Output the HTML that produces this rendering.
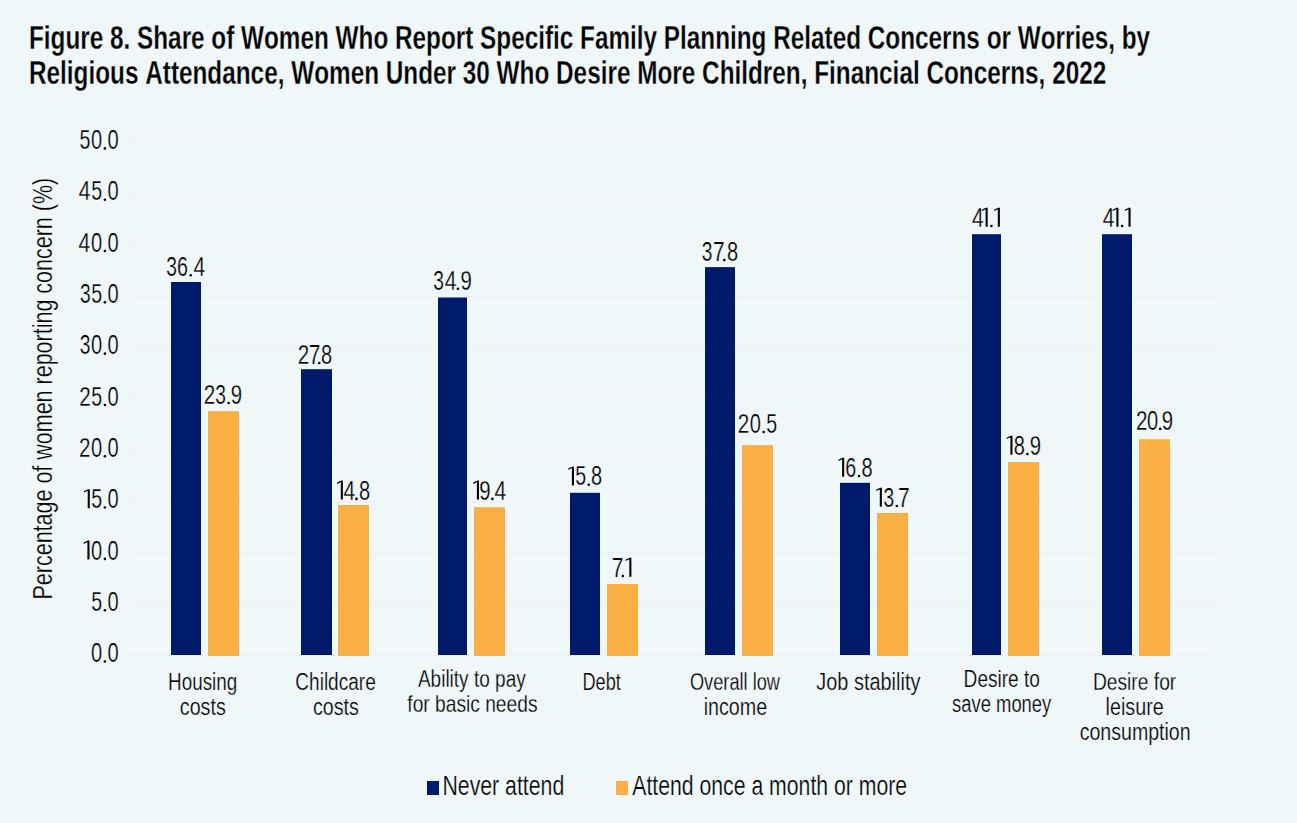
<!DOCTYPE html>
<html><head><meta charset="utf-8"><style>
html,body{margin:0;padding:0;background:#EFF7F9;}
svg{display:block;}
text{font-family:"Liberation Sans",sans-serif;fill:#050505;font-kerning:none;stroke:#EFF7F9;stroke-width:0.25px;}
</style></head><body>
<svg width="1297" height="823" viewBox="0 0 1297 823">
<rect width="1297" height="823" fill="#EFF7F9"/>
<rect x="134" y="142" width="1087" height="1" fill="#F0EFEF"/>
<rect x="134" y="193" width="1087" height="1" fill="#F0EFEF"/>
<rect x="134" y="245" width="1087" height="1" fill="#F0EFEF"/>
<rect x="134" y="296" width="1087" height="1" fill="#F0EFEF"/>
<rect x="134" y="347" width="1087" height="1" fill="#F0EFEF"/>
<rect x="134" y="398" width="1087" height="1" fill="#F0EFEF"/>
<rect x="134" y="449" width="1087" height="1" fill="#F0EFEF"/>
<rect x="134" y="501" width="1087" height="1" fill="#F0EFEF"/>
<rect x="134" y="552" width="1087" height="1" fill="#F0EFEF"/>
<rect x="134" y="603" width="1087" height="1" fill="#F0EFEF"/>
<rect x="124" y="655" width="1087" height="1" fill="#F0EFEF"/>
<rect x="171" y="282.0" width="30" height="373.0" fill="#001A6B"/>
<rect x="208" y="411.1" width="31" height="244.9" fill="#F9AF44"/>
<rect x="301" y="369.2" width="31" height="285.8" fill="#001A6B"/>
<rect x="338" y="505.0" width="31" height="151.0" fill="#F9AF44"/>
<rect x="438" y="297.5" width="29" height="357.5" fill="#001A6B"/>
<rect x="474" y="507.2" width="31" height="148.8" fill="#F9AF44"/>
<rect x="570" y="492.8" width="30" height="162.2" fill="#001A6B"/>
<rect x="607" y="584.0" width="31" height="72.0" fill="#F9AF44"/>
<rect x="705" y="267.1" width="30" height="387.9" fill="#001A6B"/>
<rect x="742" y="445.1" width="31" height="210.9" fill="#F9AF44"/>
<rect x="840" y="482.8" width="30" height="172.2" fill="#001A6B"/>
<rect x="877" y="513.0" width="31" height="143.0" fill="#F9AF44"/>
<rect x="972" y="234.2" width="29" height="420.8" fill="#001A6B"/>
<rect x="1008" y="462.1" width="31" height="193.9" fill="#F9AF44"/>
<rect x="1102" y="234.2" width="30" height="420.8" fill="#001A6B"/>
<rect x="1139" y="439.2" width="31" height="216.8" fill="#F9AF44"/>
<rect x="427" y="781" width="12" height="14" fill="#001A6B"/>
<rect x="616" y="781" width="12" height="14" fill="#F9AF44"/>
<text transform="translate(79.41,149.10) scale(0.7159,1)" font-size="27.4">5</text>
<text transform="translate(90.92,149.10) scale(0.7329,1)" font-size="27.4">0</text>
<circle cx="104.90" cy="148.40" r="1.3" fill="#050505"/>
<text transform="translate(107.52,149.10) scale(0.7329,1)" font-size="27.4">0</text>
<text transform="translate(78.72,200.41) scale(0.7677,1)" font-size="27.4">4</text>
<text transform="translate(91.21,200.41) scale(0.7159,1)" font-size="27.4">5</text>
<circle cx="104.90" cy="199.71" r="1.3" fill="#050505"/>
<text transform="translate(107.52,200.41) scale(0.7329,1)" font-size="27.4">0</text>
<text transform="translate(78.42,251.72) scale(0.7677,1)" font-size="27.4">4</text>
<text transform="translate(90.92,251.72) scale(0.7329,1)" font-size="27.4">0</text>
<circle cx="104.90" cy="251.02" r="1.3" fill="#050505"/>
<text transform="translate(107.52,251.72) scale(0.7329,1)" font-size="27.4">0</text>
<text transform="translate(79.97,303.03) scale(0.7005,1)" font-size="27.4">3</text>
<text transform="translate(91.21,303.03) scale(0.7159,1)" font-size="27.4">5</text>
<circle cx="104.90" cy="302.33" r="1.3" fill="#050505"/>
<text transform="translate(107.52,303.03) scale(0.7329,1)" font-size="27.4">0</text>
<text transform="translate(79.67,354.34) scale(0.7005,1)" font-size="27.4">3</text>
<text transform="translate(90.92,354.34) scale(0.7329,1)" font-size="27.4">0</text>
<circle cx="104.90" cy="353.64" r="1.3" fill="#050505"/>
<text transform="translate(107.52,354.34) scale(0.7329,1)" font-size="27.4">0</text>
<text transform="translate(79.36,405.65) scale(0.7531,1)" font-size="27.4">2</text>
<text transform="translate(91.21,405.65) scale(0.7159,1)" font-size="27.4">5</text>
<circle cx="104.90" cy="404.95" r="1.3" fill="#050505"/>
<text transform="translate(107.52,405.65) scale(0.7329,1)" font-size="27.4">0</text>
<text transform="translate(79.06,456.96) scale(0.7531,1)" font-size="27.4">2</text>
<text transform="translate(90.92,456.96) scale(0.7329,1)" font-size="27.4">0</text>
<circle cx="104.90" cy="456.26" r="1.3" fill="#050505"/>
<text transform="translate(107.52,456.96) scale(0.7329,1)" font-size="27.4">0</text>
<path d="M87.70 489.27h2.1v19.00h-2.1z M87.90 489.27L87.90 490.77L84.00 492.57L84.00 491.27z" fill="#050505"/>
<text transform="translate(91.21,508.27) scale(0.7159,1)" font-size="27.4">5</text>
<circle cx="104.90" cy="507.57" r="1.3" fill="#050505"/>
<text transform="translate(107.52,508.27) scale(0.7329,1)" font-size="27.4">0</text>
<path d="M87.40 540.58h2.1v19.00h-2.1z M87.60 540.58L87.60 542.08L83.70 543.88L83.70 542.58z" fill="#050505"/>
<text transform="translate(90.92,559.58) scale(0.7329,1)" font-size="27.4">0</text>
<circle cx="104.90" cy="558.88" r="1.3" fill="#050505"/>
<text transform="translate(107.52,559.58) scale(0.7329,1)" font-size="27.4">0</text>
<text transform="translate(91.21,610.89) scale(0.7159,1)" font-size="27.4">5</text>
<circle cx="104.90" cy="610.19" r="1.3" fill="#050505"/>
<text transform="translate(107.52,610.89) scale(0.7329,1)" font-size="27.4">0</text>
<text transform="translate(90.92,662.20) scale(0.7329,1)" font-size="27.4">0</text>
<circle cx="104.90" cy="661.50" r="1.3" fill="#050505"/>
<text transform="translate(107.52,662.20) scale(0.7329,1)" font-size="27.4">0</text>
<text transform="translate(166.17,276.00) scale(0.7005,1)" font-size="27.4">3</text>
<text transform="translate(177.10,276.00) scale(0.7198,1)" font-size="27.4">6</text>
<circle cx="190.70" cy="275.30" r="1.3" fill="#050505"/>
<text transform="translate(193.52,276.00) scale(0.7677,1)" font-size="27.4">4</text>
<text transform="translate(203.66,403.70) scale(0.7531,1)" font-size="27.4">2</text>
<text transform="translate(215.37,403.70) scale(0.7005,1)" font-size="27.4">3</text>
<circle cx="228.60" cy="403.00" r="1.3" fill="#050505"/>
<text transform="translate(230.85,403.70) scale(0.7427,1)" font-size="27.4">9</text>
<text transform="translate(297.86,363.70) scale(0.7531,1)" font-size="27.4">2</text>
<text transform="translate(308.73,363.70) scale(0.7627,1)" font-size="27.4">7</text>
<circle cx="319.20" cy="363.00" r="1.3" fill="#050505"/>
<text transform="translate(321.03,363.70) scale(0.7311,1)" font-size="27.4">8</text>
<path d="M340.80 480.60h2.1v19.00h-2.1z M341.00 480.60L341.00 482.10L337.10 483.90L337.10 482.60z" fill="#050505"/>
<text transform="translate(343.52,499.60) scale(0.7677,1)" font-size="27.4">4</text>
<circle cx="356.50" cy="498.90" r="1.3" fill="#050505"/>
<text transform="translate(359.03,499.60) scale(0.7311,1)" font-size="27.4">8</text>
<text transform="translate(433.17,289.50) scale(0.7005,1)" font-size="27.4">3</text>
<text transform="translate(444.85,289.50) scale(0.7677,1)" font-size="27.4">4</text>
<circle cx="457.97" cy="288.80" r="1.3" fill="#050505"/>
<text transform="translate(460.55,289.50) scale(0.7427,1)" font-size="27.4">9</text>
<path d="M476.90 480.60h2.1v19.00h-2.1z M477.10 480.60L477.10 482.10L473.20 483.90L473.20 482.60z" fill="#050505"/>
<text transform="translate(479.35,499.60) scale(0.7427,1)" font-size="27.4">9</text>
<circle cx="492.40" cy="498.90" r="1.3" fill="#050505"/>
<text transform="translate(494.42,499.60) scale(0.7677,1)" font-size="27.4">4</text>
<path d="M571.90 466.40h2.1v19.00h-2.1z M572.10 466.40L572.10 467.90L568.20 469.70L568.20 468.40z" fill="#050505"/>
<text transform="translate(575.21,485.40) scale(0.7159,1)" font-size="27.4">5</text>
<circle cx="588.70" cy="484.70" r="1.3" fill="#050505"/>
<text transform="translate(591.03,485.40) scale(0.7311,1)" font-size="27.4">8</text>
<text transform="translate(611.63,576.70) scale(0.7627,1)" font-size="27.4">7</text>
<circle cx="622.90" cy="576.00" r="1.3" fill="#050505"/>
<path d="M629.30 557.70h2.1v19.00h-2.1z M629.50 557.70L629.50 559.20L625.60 561.00L625.60 559.70z" fill="#050505"/>
<text transform="translate(701.87,260.80) scale(0.7005,1)" font-size="27.4">3</text>
<text transform="translate(713.00,260.80) scale(0.7627,1)" font-size="27.4">7</text>
<circle cx="724.33" cy="260.10" r="1.3" fill="#050505"/>
<text transform="translate(727.03,260.80) scale(0.7311,1)" font-size="27.4">8</text>
<text transform="translate(737.76,432.70) scale(0.7531,1)" font-size="27.4">2</text>
<text transform="translate(749.65,432.70) scale(0.7329,1)" font-size="27.4">0</text>
<circle cx="763.67" cy="432.00" r="1.3" fill="#050505"/>
<text transform="translate(766.31,432.70) scale(0.7159,1)" font-size="27.4">5</text>
<path d="M842.10 457.70h2.1v19.00h-2.1z M842.30 457.70L842.30 459.20L838.40 461.00L838.40 459.70z" fill="#050505"/>
<text transform="translate(845.33,476.70) scale(0.7198,1)" font-size="27.4">6</text>
<circle cx="858.97" cy="476.00" r="1.3" fill="#050505"/>
<text transform="translate(861.43,476.70) scale(0.7311,1)" font-size="27.4">8</text>
<path d="M879.80 487.70h2.1v19.00h-2.1z M880.00 487.70L880.00 489.20L876.10 491.00L876.10 489.70z" fill="#050505"/>
<text transform="translate(883.40,506.70) scale(0.7005,1)" font-size="27.4">3</text>
<circle cx="896.87" cy="506.00" r="1.3" fill="#050505"/>
<text transform="translate(898.03,506.70) scale(0.7627,1)" font-size="27.4">7</text>
<text transform="translate(971.92,226.70) scale(0.7677,1)" font-size="27.4">4</text>
<path d="M985.60 207.70h2.1v19.00h-2.1z M985.80 207.70L985.80 209.20L981.90 211.00L981.90 209.70z" fill="#050505"/>
<circle cx="991.40" cy="226.00" r="1.3" fill="#050505"/>
<path d="M997.80 207.70h2.1v19.00h-2.1z M998.00 207.70L998.00 209.20L994.10 211.00L994.10 209.70z" fill="#050505"/>
<path d="M1010.40 435.70h2.1v19.00h-2.1z M1010.60 435.70L1010.60 437.20L1006.70 439.00L1006.70 437.70z" fill="#050505"/>
<text transform="translate(1013.70,454.70) scale(0.7311,1)" font-size="27.4">8</text>
<circle cx="1027.43" cy="454.00" r="1.3" fill="#050505"/>
<text transform="translate(1029.75,454.70) scale(0.7427,1)" font-size="27.4">9</text>
<text transform="translate(1102.72,226.70) scale(0.7677,1)" font-size="27.4">4</text>
<path d="M1116.37 207.70h2.1v19.00h-2.1z M1116.57 207.70L1116.57 209.20L1112.67 211.00L1112.67 209.70z" fill="#050505"/>
<circle cx="1122.13" cy="226.00" r="1.3" fill="#050505"/>
<path d="M1128.50 207.70h2.1v19.00h-2.1z M1128.70 207.70L1128.70 209.20L1124.80 211.00L1124.80 209.70z" fill="#050505"/>
<text transform="translate(1135.96,429.60) scale(0.7531,1)" font-size="27.4">2</text>
<text transform="translate(1147.02,429.60) scale(0.7329,1)" font-size="27.4">0</text>
<circle cx="1160.20" cy="428.90" r="1.3" fill="#050505"/>
<text transform="translate(1161.85,429.60) scale(0.7427,1)" font-size="27.4">9</text>
<text transform="translate(28.98,48.60) scale(0.7440,1)" font-size="32.7" font-weight="bold">Figure 8. Share of Women Who Report Specific Family Planning Related Concerns or Worries, by</text>
<text transform="translate(28.98,83.60) scale(0.7441,1)" font-size="32.7" font-weight="bold">Religious Attendance, Women Under 30 Who Desire More Children, Financial Concerns, 2022</text>
<text transform="translate(168.03,690.00) scale(0.7702,1)" font-size="24.5">Housing</text>
<text transform="translate(179.78,714.80) scale(0.8050,1)" font-size="24.5">costs</text>
<text transform="translate(295.31,689.90) scale(0.7775,1)" font-size="24.5">Childcare</text>
<text transform="translate(312.89,714.80) scale(0.8032,1)" font-size="24.5">costs</text>
<text transform="translate(417.90,687.00) scale(0.7768,1)" font-size="24.5">Ability to pay</text>
<text transform="translate(407.30,711.50) scale(0.7842,1)" font-size="24.5">for basic needs</text>
<text transform="translate(582.48,690.10) scale(0.7412,1)" font-size="24.5">Debt</text>
<text transform="translate(689.95,689.90) scale(0.7438,1)" font-size="24.5">Overall low</text>
<text transform="translate(703.67,714.60) scale(0.8044,1)" font-size="24.5">income</text>
<text transform="translate(816.29,690.10) scale(0.8134,1)" font-size="24.5">Job stability</text>
<text transform="translate(963.61,686.90) scale(0.7789,1)" font-size="24.5">Desire to</text>
<text transform="translate(952.11,711.60) scale(0.7509,1)" font-size="24.5">save money</text>
<text transform="translate(1092.90,689.80) scale(0.7853,1)" font-size="24.5">Desire for</text>
<text transform="translate(1105.56,714.80) scale(0.8069,1)" font-size="24.5">leisure</text>
<text transform="translate(1079.69,739.70) scale(0.7991,1)" font-size="24.5">consumption</text>
<text transform="translate(442.44,794.90) scale(0.7941,1)" font-size="26.8">Never attend</text>
<text transform="translate(632.30,794.80) scale(0.7922,1)" font-size="26.8">Attend once a month or more</text>
<text transform="translate(52.00,599.48) rotate(-90) scale(0.7964,1)" font-size="27.0">Percentage of women reporting concern (%)</text>
</svg>
</body></html>
